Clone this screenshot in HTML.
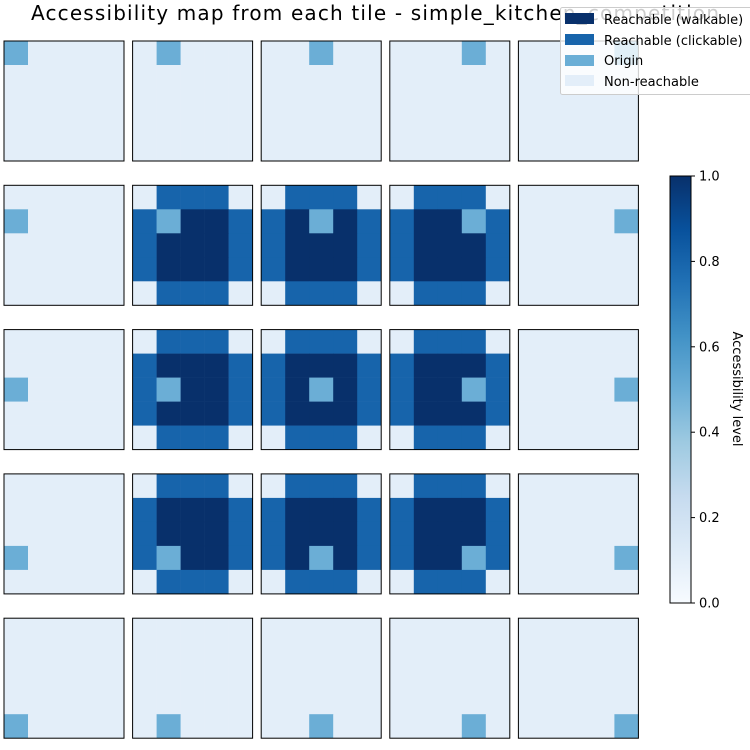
<!DOCTYPE html>
<html><head><meta charset="utf-8"><style>
html,body{margin:0;padding:0;background:#fff}
svg{display:block;font-family:"DejaVu Sans","Liberation Sans",sans-serif}
</style></head><body>
<svg id="chart" width="750" height="750" viewBox="0 0 750 750" xmlns="http://www.w3.org/2000/svg">
<rect width="750" height="750" fill="#fff"/>
<text x="375" y="20" text-anchor="middle" font-size="20" textLength="688" fill="#000">Accessibility map from each tile - simple_kitchen_competition</text>
<g id="panels"></g>
<defs><linearGradient id="blues" x1="0" y1="1" x2="0" y2="0">
<stop offset="0" stop-color="#f7fbff"/><stop offset="0.125" stop-color="#deebf7"/><stop offset="0.25" stop-color="#c6dbef"/><stop offset="0.375" stop-color="#9ecae1"/><stop offset="0.5" stop-color="#6baed6"/><stop offset="0.625" stop-color="#4292c6"/><stop offset="0.75" stop-color="#2171b5"/><stop offset="0.875" stop-color="#08519c"/><stop offset="1" stop-color="#08306b"/>
</linearGradient></defs>
<g id="colorbar">
<rect x="670" y="176" width="21" height="427" fill="url(#blues)" stroke="#000" stroke-width="1"/>
</g>
<text transform="translate(733,389) rotate(90)" text-anchor="middle" font-size="13" fill="#000">Accessibility level</text>
<g>
<rect x="560.5" y="7.5" width="200" height="87" rx="2" fill="#fff" fill-opacity="0.8" stroke="#ccc"/>
<rect x="565" y="13" width="29" height="11" fill="#08306b"/>
<text x="604" y="24" font-size="13">Reachable (walkable)</text>
<rect x="565" y="34" width="29" height="11" fill="#1764ab"/>
<text x="604" y="45" font-size="13">Reachable (clickable)</text>
<rect x="565" y="55" width="29" height="11" fill="#6aaed6"/>
<text x="604" y="65" font-size="13">Origin</text>
<rect x="565" y="75" width="29" height="11" fill="#e3eef9"/>
<text x="604" y="86" font-size="13">Non-reachable</text>
</g>
</svg>
<script>
// levels per state: 0 non-reachable, 1 origin, 2 clickable, 3 walkable
const stateLevels = [0.1, 0.5, 0.8, 1.0];
// reachable pattern for interior origins
const reachPattern = [
 [0,2,2,2,0],
 [2,3,3,3,2],
 [2,3,3,3,2],
 [2,3,3,3,2],
 [0,2,2,2,0]];
// which origin tiles have reachable area (1) vs isolated (0)
const hasReach = [
 [0,0,0,0,0],
 [0,1,1,1,0],
 [0,1,1,1,0],
 [0,1,1,1,0],
 [0,0,0,0,0]];
const cbTicks = [0.0, 0.2, 0.4, 0.6, 0.8, 1.0];
const cbTickLabels = ["0.0","0.2","0.4","0.6","0.8","1.0"];

const NS = "http://www.w3.org/2000/svg";
const panelX = c => 4 + c * 128.6;
const panelY = r => 41 + r * 144.3;
const size = 120, cell = size / 5;
const cbY = v => 603 - v * 427;
const stops = [[0,[247,251,255]],[0.125,[222,235,247]],[0.25,[198,219,239]],[0.375,[158,202,225]],[0.5,[107,174,214]],[0.625,[66,146,198]],[0.75,[33,113,181]],[0.875,[8,81,156]],[1,[8,48,107]]];
function blues(v){
  for(let i=1;i<stops.length;i++){ if(v<=stops[i][0]){const a=stops[i-1],b=stops[i];const t=(v-a[0])/(b[0]-a[0]);
    const c=a[1].map((x,k)=>Math.round(x+(b[1][k]-x)*t));return `rgb(${c.join(',')})`;}}
  return 'rgb(8,48,107)';
}
const panels = document.getElementById('panels');
for(let r=0;r<5;r++) for(let c=0;c<5;c++){
  const g=document.createElementNS(NS,'g');
  
  
  const x0=panelX(c), y0=panelY(r);
  for(let i=0;i<5;i++) for(let j=0;j<5;j++){
    let s = hasReach[r][c] ? reachPattern[i][j] : 0;
    if(i===r && j===c) s=1;
    const rect=document.createElementNS(NS,'rect');
    
    
    rect.setAttribute('x',x0+j*cell); rect.setAttribute('y',y0+i*cell);
    rect.setAttribute('width',cell+0.3); rect.setAttribute('height',cell+0.3);
    rect.setAttribute('fill',blues(stateLevels[s]));
    g.appendChild(rect);
  }
  const b=document.createElementNS(NS,'rect');
  
  
  b.setAttribute('x',x0); b.setAttribute('y',y0); b.setAttribute('width',size); b.setAttribute('height',size);
  b.setAttribute('fill','none'); b.setAttribute('stroke','#000'); b.setAttribute('stroke-width','1');
  g.appendChild(b);
  panels.appendChild(g);
}
const cb=document.getElementById('colorbar');
cbTicks.forEach((v,i)=>{
  const l=document.createElementNS(NS,'line');
  
  
  l.setAttribute('x1',691); l.setAttribute('x2',695); l.setAttribute('y1',cbY(v)); l.setAttribute('y2',cbY(v));
  l.setAttribute('stroke','#000');
  cb.appendChild(l);
  const t=document.createElementNS(NS,'text');
  
  
  t.setAttribute('x',699); t.setAttribute('y',cbY(v)+4.5); t.setAttribute('font-size','13');
  t.textContent=cbTickLabels[i];
  cb.appendChild(t);
});
</script>
</body></html>
